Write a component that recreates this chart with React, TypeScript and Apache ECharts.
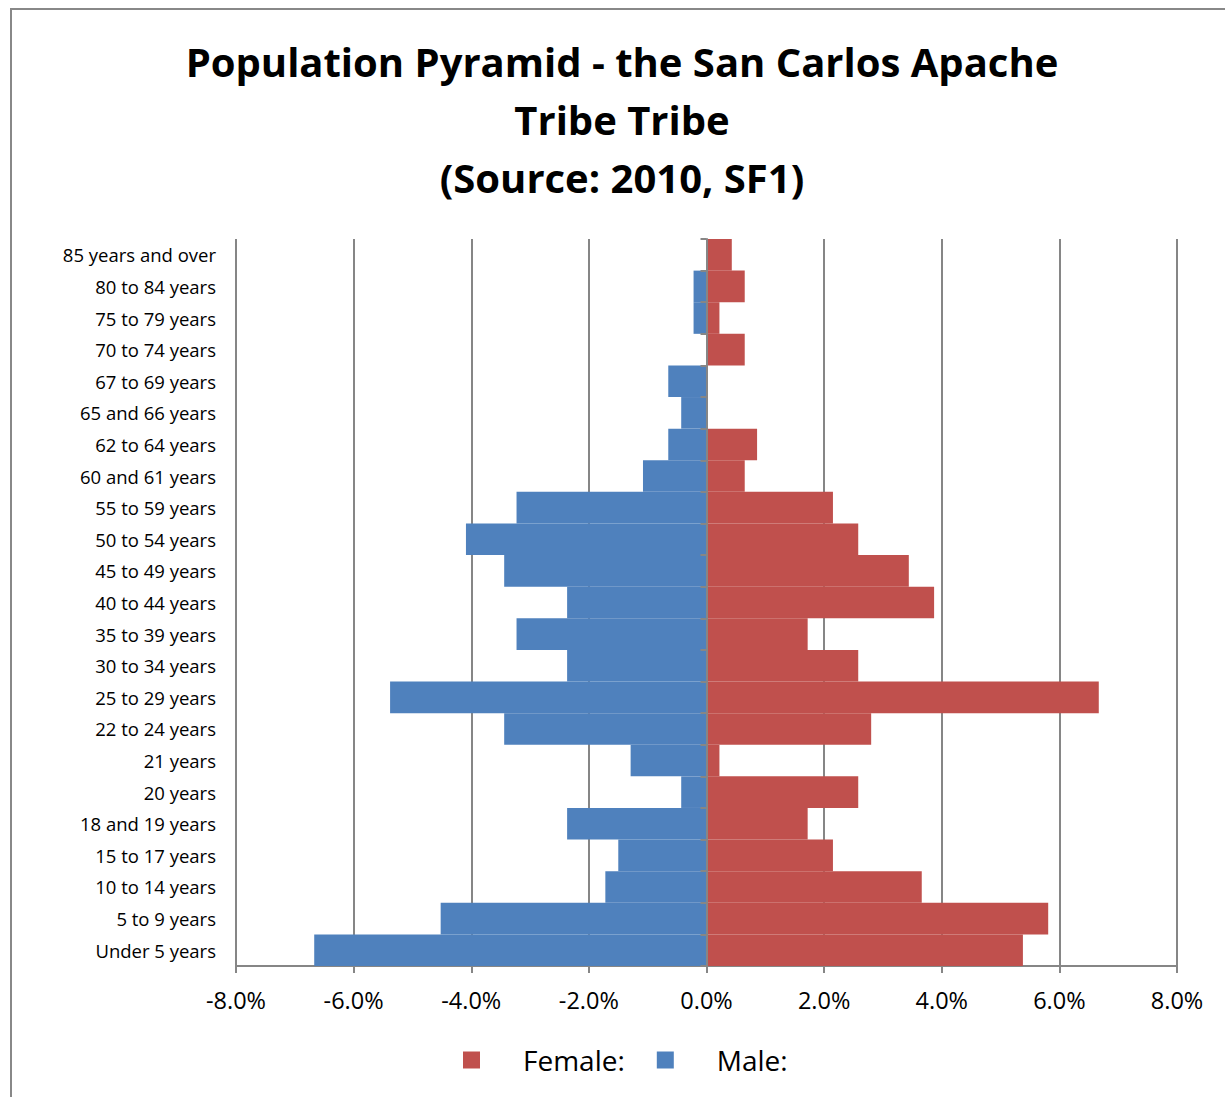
import React, { useEffect, useRef } from "react";
import * as echarts from "echarts";

const categories = [
  "Under 5 years", "5 to 9 years", "10 to 14 years", "15 to 17 years", "18 and 19 years",
  "20 years", "21 years", "22 to 24 years", "25 to 29 years", "30 to 34 years",
  "35 to 39 years", "40 to 44 years", "45 to 49 years", "50 to 54 years", "55 to 59 years",
  "60 and 61 years", "62 to 64 years", "65 and 66 years", "67 to 69 years", "70 to 74 years",
  "75 to 79 years", "80 to 84 years", "85 years and over",
];

const maleValues = [
  -6.67, -4.52, -1.72, -1.5, -2.37,
  -0.43, -1.29, -3.44, -5.38, -2.37,
  -3.23, -2.37, -3.44, -4.09, -3.23,
  -1.08, -0.65, -0.43, -0.65, 0,
  -0.22, -0.22, 0,
];

const femaleValues = [
  5.38, 5.81, 3.66, 2.15, 1.72,
  2.58, 0.22, 2.8, 6.67, 2.58,
  1.72, 3.87, 3.44, 2.58, 2.15,
  0.65, 0.86, 0, 0, 0.65,
  0.22, 0.65, 0.43,
];

const xTicks = [-8, -6, -4, -2, 0, 2, 4, 6, 8];

const titleText = "Population Pyramid - the San Carlos Apache\nTribe Tribe\n(Source: 2010, SF1)";

export default function App() {
  const ref = useRef<HTMLDivElement>(null);
  useEffect(() => {
    if (!ref.current) return;
    const chart = echarts.init(ref.current, null, { renderer: "svg" });
    const font = "'Open Sans', 'Noto Sans', sans-serif";
    const gridLeft = 236;
    const gridRight = 48;
    const plotWidth = 1225 - gridLeft - gridRight;
    const xMin = xTicks[0];
    const xMax = xTicks[xTicks.length - 1];
    const zeroOffset = (plotWidth * (0 - xMin)) / (xMax - xMin);
    chart.setOption({
      animation: false,
      backgroundColor: "#ffffff",
      title: {
        text: titleText,
        left: 617,
        top: 27,
        textAlign: "center",
        textStyle: {
          fontFamily: font,
          fontWeight: "bold",
          fontSize: 40,
          lineHeight: 58,
          color: "#000000",
        },
      },
      legend: {
        data: ["Female:", "Male:"],
        left: 463,
        top: 1045,
        padding: 0,
        icon: "rect",
        itemWidth: 17,
        itemHeight: 17,
        itemGap: 32,
        textStyle: {
          fontFamily: font,
          fontSize: 28,
          lineHeight: 30,
          color: "#000000",
          padding: [0, 0, 0, 38],
        },
      },
      grid: { left: gridLeft, right: gridRight, top: 239, bottom: 131, containLabel: false },
      xAxis: {
        type: "value",
        min: xMin,
        max: xMax,
        interval: 2,
        axisLine: { show: true, onZero: false, lineStyle: { color: "#868686", width: 2 } },
        axisTick: { show: true, length: 7, lineStyle: { color: "#868686", width: 2 } },
        splitLine: { show: true, lineStyle: { color: "#868686", width: 2 } },
        axisLabel: {
          margin: 22,
          fontFamily: font,
          fontSize: 23.5,
          color: "#000000",
          formatter: (v: number) => v.toFixed(1) + "%",
        },
      },
      yAxis: [
        {
          type: "category",
          data: categories,
          position: "left",
          axisLine: { show: false },
          axisTick: { show: false },
          axisLabel: {
            margin: 20,
            fontFamily: font,
            fontSize: 18.5,
            color: "#000000",
          },
        },
        {
          type: "category",
          data: categories,
          position: "left",
          offset: -zeroOffset,
          z: 10,
          axisLine: { show: true, onZero: false, lineStyle: { color: "#868686", width: 2 } },
          axisTick: { show: true, inside: false, length: 6, lineStyle: { color: "#868686", width: 2 } },
          axisLabel: { show: false },
        },
      ],
      series: [
        {
          name: "Female:",
          type: "bar",
          data: femaleValues,
          barCategoryGap: 0,
          barGap: "-100%",
          itemStyle: { color: "#C0504D" },
        },
        {
          name: "Male:",
          type: "bar",
          data: maleValues,
          barCategoryGap: 0,
          barGap: "-100%",
          itemStyle: { color: "#4F81BD" },
        },
      ],
      graphic: [
        {
          type: "rect",
          shape: { x: 11, y: 9, width: 1240, height: 1120 },
          style: { fill: "none", stroke: "#888888", lineWidth: 2 },
          z: -1,
          silent: true,
        },
      ],
    });
    return () => chart.dispose();
  }, []);
  return (
    <div
      ref={ref}
      style={{ position: "absolute", left: 0, top: 0, width: 1225, height: 1097 }}
    />
  );
}
